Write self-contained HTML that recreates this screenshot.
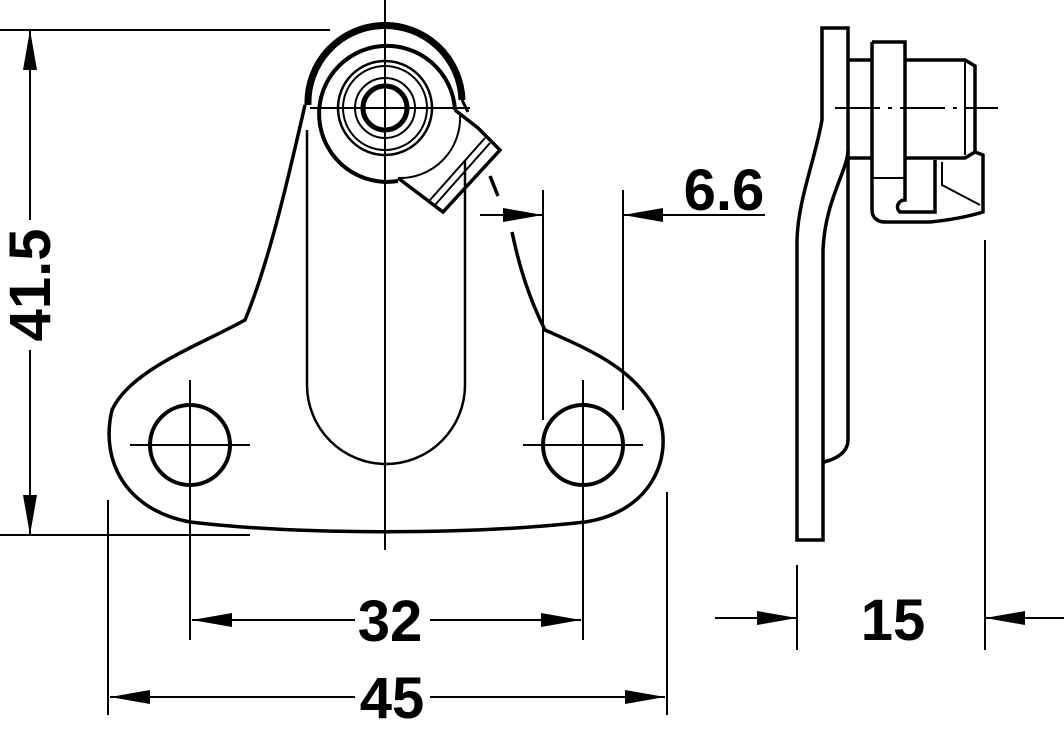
<!DOCTYPE html>
<html><head><style>html,body{margin:0;background:#fff}svg{display:block}text{font-family:"Liberation Sans",sans-serif;font-weight:bold;font-size:58px;fill:#000}</style></head><body>
<svg width="1064" height="730" viewBox="0 0 1064 730" xmlns="http://www.w3.org/2000/svg">
<defs><marker id="a" viewBox="0 0 40 14" refX="40" refY="7" markerWidth="40" markerHeight="14" markerUnits="userSpaceOnUse" orient="auto-start-reverse"><path d="M0,0L40,7L0,14Z"/></marker></defs>
<g fill="none" stroke="#000">
<g stroke-width="2"><line x1="385" y1="0" x2="385" y2="550"/>
<line x1="130" y1="445" x2="250" y2="445"/><line x1="190" y1="380" x2="190" y2="640"/>
<line x1="523" y1="445" x2="643" y2="445"/><line x1="583" y1="380" x2="583" y2="640"/>
<line x1="310" y1="108" x2="470" y2="108"/></g>
<path stroke-width="3.5" d="M305,105 C290,170 270,260 245,320 C200,345 130,370 112,410 C100,460 125,510 190,522 C300,535 470,535 585,522 C650,512 672,460 660,420 C640,370 590,350 545,330 C530,300 520,270 512,232"/>
<path stroke-width="3.5" d="M490,176 L498,196"/>
<path stroke-width="7" d="M308,105 A77,77 0 0 1 462,100"/>
<path stroke-width="3" d="M462,100 L468,112"/>
<path stroke-width="2.5" d="M307,130 L307,385 A79,79 0 0 0 465,385 L465,160"/>
<circle cx="190" cy="445" r="40" stroke-width="4"/>
<circle cx="583" cy="445" r="40" stroke-width="4"/>
<path stroke-width="4" d="M455,110 A68,68 0 1 0 398,181"/>
<circle cx="385" cy="108" r="47" stroke-width="2.5"/>
<circle cx="385" cy="108" r="42" stroke-width="2"/>
<circle cx="385" cy="108" r="30" stroke-width="2"/>
<circle cx="385" cy="108" r="22" stroke-width="5"/>
<path stroke-width="3.5" d="M398,178 L443,212 L500,150 L478,128 L455,110"/>
<path stroke-width="2" d="M435,205 L490,143 M430,200 L485,138"/>
<path stroke-width="2" d="M398,178 A60,60 0 0 0 460,115"/>
<g stroke-width="2">
<line x1="0" y1="30" x2="330" y2="30"/><line x1="0" y1="535" x2="250" y2="535"/>
<line x1="30" y1="30" x2="30" y2="535" marker-start="url(#a)" marker-end="url(#a)"/>
<line x1="108" y1="500" x2="108" y2="715"/><line x1="667" y1="492" x2="667" y2="715"/>
<line x1="110" y1="697" x2="665" y2="697" marker-start="url(#a)" marker-end="url(#a)"/>
<line x1="192" y1="620" x2="581" y2="620" marker-start="url(#a)" marker-end="url(#a)"/>
<line x1="543" y1="190" x2="543" y2="420"/><line x1="623" y1="190" x2="623" y2="410"/>
<line x1="480" y1="215" x2="543" y2="215" marker-end="url(#a)"/>
<line x1="765" y1="215" x2="623" y2="215" marker-end="url(#a)"/>
<line x1="797" y1="565" x2="797" y2="650"/><line x1="985" y1="240" x2="985" y2="650"/>
<line x1="715" y1="618" x2="797" y2="618" marker-end="url(#a)"/>
<line x1="1064" y1="618" x2="985" y2="618" marker-end="url(#a)"/>
</g>
<g stroke-width="3.5">
<path d="M848,28 L822,28 L822,120 C815,160 798,200 797,240 L797,540 L823,540 L823,250 C825,200 848,170 848,150 Z"/>
<path d="M848,150 L848,440 C848,450 840,458 824,462"/>
<path d="M848,60 L872,60 M848,158 L872,158"/>
<path d="M872,42 L905,42 L905,200 C898,200 895,208 900,212 L935,212 L935,160"/>
<path d="M872,42 L872,210 C872,218 878,222 885,222 L930,222 C950,220 970,216 983,212 L983,155 L975,152 L965,158 L905,158"/>
<path d="M905,60 L965,60 L975,66 L975,152"/>
</g>
<path stroke-width="2" d="M965,62 L965,155 M872,178 L905,178 M942,162 L942,185 L980,205"/>
<line x1="835" y1="108" x2="998" y2="108" stroke-width="2" stroke-dasharray="45,8,4,8"/>
</g>
<rect x="680" y="160" width="90" height="50" fill="#fff"/>
<rect x="355" y="595" width="75" height="50" fill="#fff"/>
<rect x="355" y="672" width="75" height="50" fill="#fff"/>
<rect x="5" y="220" width="50" height="130" fill="#fff"/>
<text x="390" y="641" text-anchor="middle">32</text>
<text x="392" y="718" text-anchor="middle">45</text>
<text x="724" y="210" text-anchor="middle">6.6</text>
<text x="893" y="640" text-anchor="middle">15</text>
<text x="0" y="0" text-anchor="middle" transform="translate(50,285) rotate(-90)">41.5</text>
</svg>
</body></html>
